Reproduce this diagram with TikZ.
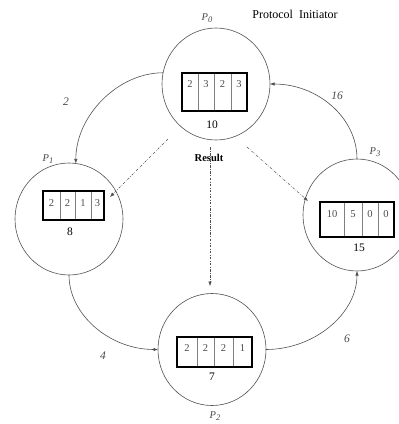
\documentclass[tikz,border=0pt]{standalone}
\usepackage{fontspec}
\setmainfont{Liberation Serif}
\usetikzlibrary{shapes.geometric,arrows.meta}
\definecolor{lg}{HTML}{505050}
\definecolor{tg}{HTML}{4A4A4A}
\begin{document}
\begin{tikzpicture}[x=1pt,y=-1pt,
  proc/.style={ellipse,draw=lg,line width=0.6pt,minimum width=108pt,minimum height=112pt,inner sep=0pt,outer sep=0pt},
  arr/.style={draw=lg,line width=0.6pt,-{Latex[length=4.5pt,width=3.5pt]}},
  darr/.style={draw=lg,line width=0.5pt,dash pattern=on 2.5pt off 1.5pt on 0.6pt off 1.5pt,-{Latex[length=4.5pt,width=3.5pt]}},
  cell/.style={draw=gray,line width=0.5pt},
  boxo/.style={draw=black,line width=1.8pt},
  num/.style={font=\fontsize{10.5}{12}\selectfont,text=tg,inner sep=0pt},
  tot/.style={font=\fontsize{11.5}{13}\selectfont,inner sep=0pt},
  plab/.style={font=\fontsize{10.5}{12}\selectfont\itshape,text=tg,inner sep=0pt},
  elab/.style={font=\fontsize{11.5}{13}\selectfont\itshape,text=tg,inner sep=0pt}]
\useasboundingbox (0,0) rectangle (399,424);

% processes
\node[proc] (p0) at (216,84) {};
\node[proc] (p1) at (69,219) {};
\node[proc] (p2) at (212,349.5) {};
\node[proc] (p3) at (357,215) {};

% P0 box
\draw[cell] (198,73)--(198,111) (214,73)--(214,111) (231,73)--(231,111);
\draw[boxo] (182,73) rectangle (247,111);
\node[num] (a1) at (190,84) {2};
\node[num] (a2) at (206,84) {3};
\node[num] (a3) at (222.5,84) {2};
\node[num] (a4) at (239,84) {3};
\node[tot] (t0) at (212,125) {10};

% P1 box
\draw[cell] (60,191)--(60,220) (75,191)--(75,220) (91,191)--(91,220);
\draw[boxo] (43,191) rectangle (104,220);
\node[num] (b1) at (51.5,203) {2};
\node[num] (b2) at (67.5,203) {2};
\node[num] (b3) at (83,203) {1};
\node[num] (b4) at (97.5,203) {3};
\node[tot] (t1) at (70,232) {8};

% P2 box
\draw[cell] (197,337)--(197,367) (214,337)--(214,367) (233,337)--(233,367);
\draw[boxo] (177,337) rectangle (252,367);
\node[num] (c1) at (187,348) {2};
\node[num] (c2) at (205.5,348) {2};
\node[num] (c3) at (223.5,348) {2};
\node[num] (c4) at (242.5,348) {1};
\node[tot] (t2) at (212,377) {7};

% P3 box
\draw[cell] (344,202)--(344,237) (362,202)--(362,237) (378,202)--(378,237);
\draw[boxo] (320,202) rectangle (394,237);
\node[num] (e1) at (332,214) {10};
\node[num] (e2) at (353,214) {5};
\node[num] (e3) at (370,214) {0};
\node[num] (e4) at (386,214) {0};
\node[tot] (t3) at (359,248) {15};

% labels
\node[plab] (l0) at (207,18) {P\raisebox{-1.5pt}{\fontsize{8.5}{9}\selectfont 0}};
\node[plab] (l1) at (48,159) {P\raisebox{-1.5pt}{\fontsize{8.5}{9}\selectfont 1}};
\node[plab] (l2) at (215,416) {P\raisebox{-1.5pt}{\fontsize{8.5}{9}\selectfont 2}};
\node[plab] (l3) at (375,152) {P\raisebox{-1.5pt}{\fontsize{8.5}{9}\selectfont 3}};
\node[font=\fontsize{12}{14}\selectfont,inner sep=0pt] (pi) at (295,14) {Protocol\ \ Initiator};
\node[font=\fontsize{10.5}{12}\selectfont\bfseries,inner sep=0pt] (res) at (209,158) {Result};

\node[elab] (w1) at (66,102) {2};
\node[elab] (w2) at (103,356) {4};
\node[elab] (w3) at (347,339) {6};
\node[elab] (w4) at (337,96) {16};

% ring arrows
\draw[arr] (p0.168) .. controls +(-45,0) and +(0,-48) .. (p1.83);
\draw[arr] (p1.south) .. controls +(0,40) and +(-48,0) .. (p2.west);
\draw[arr] (p2.east) .. controls +(48,0) and +(0,43) .. (p3.south);
\draw[arr] (p3.north) .. controls +(0,-42) and +(47,0) .. (p0.east);

% result arrows
\coordinate (d1s) at (168,139); \coordinate (d1e) at (110,197);
\coordinate (d2s) at (210,147); \coordinate (d2e) at (210,286);
\coordinate (d3s) at (247,147); \coordinate (d3e) at (308,201);
\draw[darr] (d1s) -- (d1e);
\draw[darr] (d2s) -- (d2e);
\draw[darr] (d3s) -- (d3e);
\end{tikzpicture}
\end{document}
